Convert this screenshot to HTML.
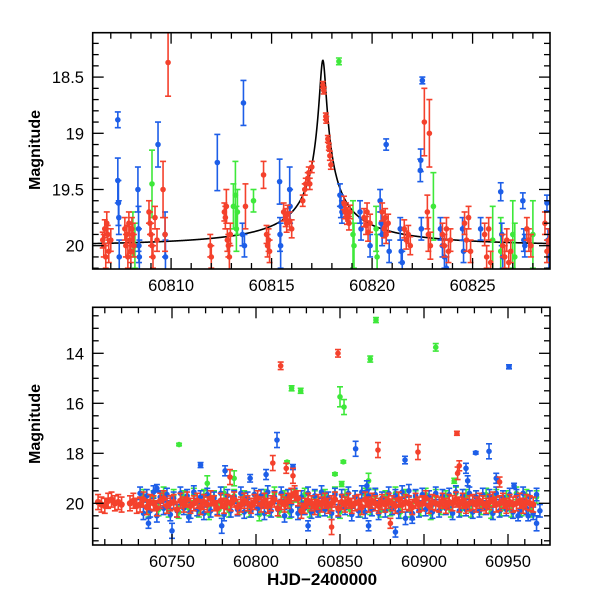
<!DOCTYPE html>
<html><head><meta charset="utf-8"><style>
html,body{margin:0;padding:0;background:#fff;}
svg{display:block;font-family:"Liberation Sans",sans-serif;}
</style></head><body>
<svg id="chart" width="600" height="600" viewBox="0 0 600 600">
<defs>
<clipPath id="clipTop"><rect x="92.7" y="32.7" width="457.3" height="236.3"/></clipPath>
<clipPath id="clipBot"><rect x="92.7" y="307.3" width="457.3" height="237.7"/></clipPath>
</defs>
<g id="topMarks" clip-path="url(#clipTop)"></g>
<g id="botMarks" clip-path="url(#clipBot)"></g>
<g id="axes"></g>
<text x="40" y="150" font-size="16" font-weight="bold" text-anchor="middle" transform="rotate(-90 40 150)">Magnitude</text>
<text x="40" y="424" font-size="16" font-weight="bold" text-anchor="middle" transform="rotate(-90 40 424)">Magnitude</text>
<text x="322" y="585" font-size="17" font-weight="bold" text-anchor="middle">HJD−2400000</text>
</svg>
<script>
// ---------- TOP PANEL DATA ----------
const topRedT=[60806.6,60806.65,60806.7,60806.75,60806.8,60806.85,60806.9,60807.0,60807.7,60807.75,60807.8,60807.85,60807.9,60807.95,60808.0,60808.05,60808.1,60808.15,60808.9,60808.95,60809.0,60809.05,60809.1,60809.2,60809.3,60809.6,60809.7,60809.85,60811.95,60812.0,60812.65,60812.7,60812.75,60812.8,60812.85,60812.9,60812.95,60813.7,60814.6,60814.75,60814.8,60814.85,60814.9,60815.6,60815.7,60815.75,60815.8,60815.9,60816.0,60816.55,60816.65,60816.7,60816.8,60816.85,60816.9,60817.0,60817.55,60817.6,60817.7,60817.72,60817.8,60817.85,60817.9,60817.95,60818.6,60818.65,60818.7,60818.75,60818.8,60818.85,60818.9,60819.6,60819.7,60819.75,60819.8,60819.9,60820.5,60820.6,60820.65,60820.7,60820.8,60821.6,60821.7,60821.8,60821.9,60822.6,60822.85,60822.75,60822.8,60822.9,60823.5,60823.6,60823.7,60823.8,60823.9,60824.6,60824.7,60824.8,60824.9,60825.6,60825.7,60825.8,60825.9,60826.5,60826.6,60826.7,60826.8,60826.9,60827.7,60827.8,60827.9,60828.6,60828.7,60828.8];
const topRedM=[19.95,20.0,19.85,20.1,19.8,19.9,20.05,19.95,19.85,20.0,19.9,20.1,19.8,19.95,20.05,19.85,19.9,20.0,19.7,19.8,19.9,20.0,20.1,19.75,19.95,19.5,19.9,18.37,20.0,20.1,19.7,19.75,19.65,19.95,20.0,20.1,19.9,19.65,19.37,19.9,20.0,19.95,20.05,19.7,19.75,19.8,19.72,19.78,19.85,19.6,19.5,19.45,19.4,19.35,19.45,19.3,18.57,18.62,18.85,18.88,19.05,19.12,19.2,19.28,19.62,19.7,19.68,19.75,19.72,19.8,19.7,19.75,19.82,19.7,19.88,19.8,19.7,19.85,19.75,19.9,19.8,19.85,19.95,19.9,20.0,18.9,19.0,19.7,19.9,20.0,19.9,20.0,19.85,20.05,19.95,19.8,19.95,19.75,20.05,19.9,20.1,19.85,20.15,20.0,20.1,19.95,20.15,20.05,19.85,19.95,20.0,19.8,20.05,19.95];
const topRedE=[0.07,0.1,0.08,0.1,0.1,0.08,0.1,0.1,0.1,0.1,0.08,0.1,0.1,0.12,0.1,0.1,0.1,0.1,0.1,0.1,0.1,0.1,0.1,0.1,0.1,0.25,0.15,0.3,0.1,0.1,0.08,0.1,0.15,0.1,0.1,0.12,0.1,0.2,0.12,0.08,0.1,0.1,0.1,0.08,0.08,0.08,0.08,0.08,0.08,0.05,0.05,0.05,0.05,0.05,0.05,0.05,0.03,0.03,0.03,0.03,0.03,0.03,0.04,0.04,0.06,0.06,0.06,0.06,0.06,0.06,0.06,0.08,0.08,0.08,0.08,0.08,0.08,0.08,0.08,0.08,0.08,0.08,0.08,0.08,0.08,0.3,0.3,0.15,0.15,0.12,0.1,0.1,0.1,0.1,0.1,0.1,0.1,0.1,0.1,0.1,0.1,0.1,0.1,0.1,0.1,0.1,0.1,0.1,0.1,0.1,0.1,0.1,0.1,0.1];
const topBlueT=[60807.35,60807.35,60807.38,60807.4,60807.42,60808.35,60808.38,60808.4,60808.42,60809.35,60809.7,60809.72,60812.3,60813.6,60813.55,60813.65,60815.4,60815.42,60815.45,60815.9,60815.92,60818.4,60818.45,60818.5,60819.4,60819.45,60819.9,60820.4,60820.45,60820.5,60820.7,60820.85,60821.4,60821.45,60821.5,60822.4,60822.45,60822.5,60822.42,60823.4,60823.5,60823.6,60823.7,60824.5,60824.55,60825.4,60826.4,60826.45,60826.5,60827.5,60827.55,60827.6,60828.7,60828.75,60828.8];
const topBlueM=[18.88,19.42,19.62,19.75,20.1,19.5,19.85,20.0,20.1,19.1,19.9,20.1,19.26,18.73,19.9,20.0,19.43,19.9,20.0,19.5,19.65,19.55,19.65,19.7,19.7,19.85,20.0,19.6,19.8,19.9,19.1,20.05,19.85,20.05,20.15,19.33,19.85,18.53,19.24,19.85,20.0,20.1,20.2,19.85,20.05,19.85,19.52,19.9,20.1,19.6,19.95,20.0,19.62,19.95,20.1];
const topBlueE=[0.07,0.2,0.2,0.15,0.15,0.2,0.2,0.15,0.15,0.2,0.2,0.15,0.25,0.2,0.1,0.1,0.2,0.15,0.2,0.2,0.15,0.1,0.1,0.1,0.1,0.1,0.1,0.1,0.1,0.1,0.05,0.1,0.1,0.1,0.1,0.1,0.1,0.03,0.1,0.1,0.1,0.1,0.1,0.1,0.1,0.1,0.08,0.1,0.1,0.07,0.1,0.1,0.07,0.1,0.1];
const topGreenT=[60808.1,60808.2,60809.05,60813.1,60813.2,60813.25,60813.3,60814.1,60818.35,60819.05,60819.1,60820.2,60820.25,60823.05,60826.0,60826.4,60827.0,60827.1,60828.0];
const topGreenM=[19.9,20.0,19.45,19.65,19.55,19.85,19.7,19.6,18.36,19.9,20.0,19.85,20.1,19.65,19.95,20.05,19.9,20.1,19.9];
const topGreenE=[0.2,0.2,0.3,0.2,0.3,0.2,0.2,0.1,0.03,0.3,0.2,0.2,0.2,0.3,0.3,0.3,0.3,0.3,0.3];
// model curve parameters (blended point-lens)
const modelT0=60817.55, modelU0=0.0129, modelTE=12, modelFs=0.0466, modelBase=20.0;

// ---------- BOTTOM PANEL DATA ----------
const botRedT=[60706,60708,60710,60712,60714,60716,60718,60720,60725,60727,60729,60731,60733,60735,60737,60739,60741,60743,60745,60747,60749,60751,60753,60755,60757,60759,60761,60763,60765,60767,60769,60771,60773,60775,60777,60779,60781,60783,60785,60787,60789,60791,60793,60795,60797,60799,60801,60803,60805,60807,60809,60811,60813,60815,60817,60819,60821,60823,60825,60827,60829,60831,60833,60835,60837,60839,60841,60843,60845,60847,60849,60851,60853,60855,60857,60859,60861,60863,60865,60867,60869,60871,60873,60875,60877,60879,60881,60883,60885,60887,60889,60891,60893,60895,60897,60899,60901,60903,60905,60907,60909,60911,60913,60915,60917,60919,60921,60923,60925,60927,60929,60931,60933,60935,60937,60939,60941,60943,60945,60947,60949,60951,60953,60955,60957,60959,60961,60963,60965,60967,60969];
const botRedM=[19.95,20.05,20.1,19.9,19.85,20.0,19.95,20.05,20.0,19.9,20.1,20.05,19.85,20.15,19.95,20.0,20.2,19.9,19.8,20.1,20.0,19.95,20.25,19.9,20.05,19.85,20.1,20.0,19.9,20.15,19.95,20.05,19.8,20.0,20.2,19.9,20.1,19.95,20.0,19.85,20.15,20.05,19.9,20.0,20.1,19.95,19.8,20.05,19.9,20.1,20.0,19.85,20.2,19.95,20.05,19.9,19.7,19.6,19.8,20.3,20.1,19.9,20.0,20.15,19.95,20.05,19.9,20.1,20.0,19.85,20.2,19.95,20.05,19.9,20.1,20.0,19.95,20.15,19.85,20.05,19.9,20.0,20.1,19.95,20.05,19.9,20.0,20.1,19.85,20.05,19.95,20.0,20.15,19.9,20.05,20.0,19.8,20.1,19.95,20.0,20.05,19.9,20.1,19.95,20.0,19.85,20.05,19.9,20.1,20.0,19.95,20.05,19.9,20.0,20.1,19.95,19.85,20.05,20.0,19.9,20.1,19.95,20.05,20.0,19.9,20.1,19.95,20.0,20.05];
const botBlueT=[60731,60733,60735,60737,60739,60741,60743,60745,60747,60749,60751,60753,60755,60757,60759,60761,60763,60765,60767,60769,60771,60773,60775,60777,60779,60781,60783,60785,60787,60789,60791,60793,60795,60797,60799,60801,60803,60805,60807,60809,60811,60813,60815,60817,60819,60821,60823,60825,60827,60829,60831,60833,60835,60837,60839,60841,60843,60845,60847,60849,60851,60853,60855,60857,60859,60861,60863,60865,60867,60869,60871,60873,60875,60877,60879,60881,60883,60885,60887,60889,60891,60893,60895,60897,60899,60901,60903,60905,60907,60909,60911,60913,60915,60917,60919,60921,60923,60925,60927,60929,60931,60933,60935,60937,60939,60941,60943,60945,60947,60949,60951,60953,60955,60957,60959,60961,60963,60965,60967,60969];
const botBlueM=[19.6,20.4,19.7,20.3,19.55,20.5,19.75,20.2,19.65,20.45,19.8,20.3,19.6,20.2,19.7,20.35,19.55,20.25,19.75,20.4,19.65,20.3,19.8,20.2,19.6,20.45,19.7,20.3,19.75,20.25,19.6,20.35,19.8,20.3,19.65,20.2,19.7,20.4,19.55,20.3,19.75,20.25,19.6,20.5,19.7,20.3,19.65,20.4,19.75,20.2,19.6,20.35,19.7,20.3,19.55,20.25,19.8,20.4,19.65,20.3,19.7,20.2,19.6,20.45,19.75,20.3,19.55,20.35,19.7,20.25,19.65,20.4,19.8,20.3,19.6,20.2,19.7,20.35,19.55,20.6,19.5,20.4,19.7,20.3,19.65,20.25,19.75,20.35,19.6,20.3,19.7,20.2,19.65,20.4,19.55,20.3,19.7,20.25,19.6,20.35,19.75,20.3,19.65,20.2,19.7,20.4,19.6,20.3,19.75,20.25,19.65,20.35,19.7,20.3,19.6,20.2,19.75,20.4,19.65,20.3];
const botGreenT=[60733,60736,60739,60742,60745,60748,60751,60754,60757,60760,60763,60766,60769,60772,60775,60778,60781,60784,60787,60790,60793,60796,60799,60802,60805,60808,60811,60814,60817,60820,60823,60826,60829,60832,60835,60838,60841,60844,60847,60850,60853,60856,60859,60862,60865,60868,60871,60874,60877,60880,60883,60886,60889,60892,60895,60898,60901,60904,60907,60910,60913,60916,60919,60922,60925,60928,60931,60934,60937,60940,60943,60946,60949,60952,60955,60958,60961,60964,60967];
const botGreenM=[19.7,20.3,19.75,20.25,19.6,20.3,19.7,20.35,19.75,20.2,19.65,20.3,19.7,20.4,19.75,20.25,19.6,20.3,19.7,20.2,19.75,20.3,19.65,20.45,19.7,20.25,19.6,20.3,19.75,20.35,19.7,20.2,19.65,20.3,19.75,20.25,19.7,20.3,19.6,20.35,19.7,20.25,19.75,20.3,19.65,20.2,19.7,20.3,19.75,20.25,19.6,20.35,19.7,20.3,19.75,20.25,19.65,20.4,19.7,20.2,19.75,20.3,19.6,20.25,19.7,20.3,19.75,20.2,19.65,20.35,19.7,20.25,19.75,20.3,19.6,20.25,19.7,20.3,19.75];
// bottom outliers
const outRedT=[60814.7,60848.8,60919.6,60872.6,60896.4,60945,60921,60810,60818,60784.5,60845,60880,60822,60920];
const outRedM=[14.5,14.0,17.2,17.87,17.95,19.15,18.5,18.39,18.6,18.95,20.95,20.8,18.9,18.8];
const outRedE=[0.15,0.15,0.08,0.3,0.3,0.2,0.2,0.3,0.2,0.3,0.3,0.2,0.3,0.25];
const outGreenT=[60754.2,60821.2,60826.6,60818.5,60871.4,60907,60868,60850,60852.4,60852,60847,60851,60918,60771,60787,60867];
const outGreenM=[17.65,15.4,15.5,18.35,12.67,13.76,14.23,15.74,16.15,18.34,18.83,19.23,19.1,19.2,19.0,19.1];
const outGreenE=[0.05,0.1,0.1,0.05,0.1,0.15,0.12,0.4,0.3,0.05,0.05,0.1,0.1,0.3,0.3,0.3];
const outBlueT=[60950.6,60859.3,60888.7,60930.8,60938.7,60925,60926,60943,60866,60953.6,60812.5,60767,60781.6,60796.5,60806,60822,60750,60736,60779.6,60831,60867,60883,60893,60967,60962,60956,60741,60760];
const outBlueM=[14.54,17.82,18.27,17.98,17.92,18.6,19.1,19.0,19.3,19.3,17.47,18.47,18.7,19.0,18.85,18.55,21.1,20.8,20.9,20.9,20.9,21.15,20.6,20.8,20.5,20.5,19.4,20.55];
const outBlueE=[0.08,0.3,0.15,0.05,0.3,0.2,0.2,0.2,0.2,0.1,0.3,0.1,0.2,0.15,0.2,0.1,0.3,0.2,0.3,0.2,0.2,0.2,0.2,0.3,0.2,0.2,0.15,0.2];

// ---------- AXES ----------
const NS="http://www.w3.org/2000/svg";
const PL=92.7, PR=550;
const xT=t=>92.7+(t-60806.1)*20.1;
const yT=m=>245.7+(m-20)*112.4;
const xB=t=>172+(t-60750)*1.68;
const yB=m=>503.3+(m-20)*25;
const RED="#f4412c", BLUE="#1d5ee8", GREEN="#3ee83a";

function mk(tag,attrs,parent){const e=document.createElementNS(NS,tag);for(const k in attrs)e.setAttribute(k,attrs[k]);parent.appendChild(e);return e;}

function drawPoint(g,x,y,yLo,yHi,col,r){
  const grp=mk('g',{},g);
  
  
  mk('line',{x1:x,x2:x,y1:yLo,y2:yHi,stroke:col,'stroke-width':1.6},grp);
  mk('line',{x1:x-3,x2:x+3,y1:yLo,y2:yLo,stroke:col,'stroke-width':1.6},grp);
  mk('line',{x1:x-3,x2:x+3,y1:yHi,y2:yHi,stroke:col,'stroke-width':1.6},grp);
  mk('circle',{cx:x,cy:y,r:r,fill:col},grp);
}
function series(g,T,M,E,fx,fy,col,r,eDef){
  for(let i=0;i<T.length;i++){
    const e=E?E[i]:eDef;
    drawPoint(g,fx(T[i]),fy(M[i]),fy(M[i]-e),fy(M[i]+e),col,r);
  }
}
const topG=document.getElementById('topMarks');
const botG=document.getElementById('botMarks');
// model curve
let d="";
for(let px=PL;px<=PR;px+=0.25){
  const t=60806.1+(px-92.7)/20.1;
  const u=Math.sqrt(modelU0*modelU0+Math.pow((t-modelT0)/modelTE,2));
  const A=(u*u+2)/(u*Math.sqrt(u*u+4));
  const m=modelBase-2.5*Math.log10(1+modelFs*(A-1));
  d+=(d?"L":"M")+px.toFixed(2)+","+yT(m).toFixed(2);
}
const curve=mk('path',{d:d,fill:'none',stroke:'#000','stroke-width':1.6},topG);


series(topG,topGreenT,topGreenM,topGreenE,xT,yT,GREEN,2.8);
series(topG,topBlueT,topBlueM,topBlueE,xT,yT,BLUE,2.8);
series(topG,topRedT,topRedM,topRedE,xT,yT,RED,2.8);

series(botG,botGreenT,botGreenM,null,xB,yB,GREEN,2.8,0.25);
series(botG,outGreenT,outGreenM,outGreenE,xB,yB,GREEN,2.8);
series(botG,botBlueT,botBlueM,null,xB,yB,BLUE,2.8,0.25);
series(botG,outBlueT,outBlueM,outBlueE,xB,yB,BLUE,2.8);
series(botG,botRedT,botRedM,null,xB,yB,RED,3.2,0.3);
series(botG,outRedT,outRedM,outRedE,xB,yB,RED,2.8);

const ax=document.getElementById('axes');
function frame(y0,y1,name){
  const r=mk('rect',{x:PL,y:y0,width:PR-PL,height:y1-y0,fill:'none',stroke:'#000','stroke-width':1.6},ax);
  
  
}
frame(32.7,269,'top-panel-frame');
frame(307.3,545,'bottom-panel-frame');
function ticksX(fx,y0,y1,from,to,step,majorEvery,labelY,name){
  for(let v=from;v<=to+1e-6;v+=step){
    const x=fx(v); if(x<PL-0.5||x>PR+0.5)continue;
    const major=Math.abs(v/majorEvery-Math.round(v/majorEvery))<1e-6;
    const L=major?11:6;
    mk('line',{x1:x,x2:x,y1:y1,y2:y1-L,stroke:'#000','stroke-width':1.3},ax);
    mk('line',{x1:x,x2:x,y1:y0,y2:y0+L,stroke:'#000','stroke-width':1.3},ax);
    if(major){const tx=mk('text',{x:x,y:labelY,'font-size':16.5,'text-anchor':'middle'},ax);tx.textContent=String(Math.round(v));
      
      }
  }
}
function ticksY(fy,from,to,step,majorEvery,fmt,name){
  for(let v=from;v<=to+1e-6;v+=step){
    const y=fy(v);
    const major=Math.abs(v/majorEvery-Math.round(v/majorEvery))<1e-6;
    const L=major?11:6;
    mk('line',{x1:PL,x2:PL+L,y1:y,y2:y,stroke:'#000','stroke-width':1.3},ax);
    mk('line',{x1:PR,x2:PR-L,y1:y,y2:y,stroke:'#000','stroke-width':1.3},ax);
    if(major){const tx=mk('text',{x:84,y:y+6,'font-size':16.5,'text-anchor':'end'},ax);tx.textContent=fmt(v);
      
      }
  }
}
ticksX(xT,32.7,269,60806,60829,1,5,291,'top-x-tick-label');
ticksY(yT,18.2,20.2,0.1,0.5,v=>String(+v.toFixed(1)),'top-y-tick-label');
ticksX(xB,307.3,545,60710,60970,10,50,567,'bottom-x-tick-label');
ticksY(yB,12.5,21.5,0.5,2,v=>String(Math.round(v)),'bottom-y-tick-label');
</script>
</body></html>
